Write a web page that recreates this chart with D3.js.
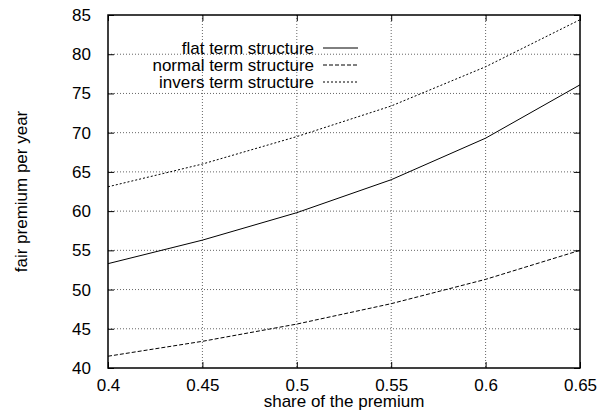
<!DOCTYPE html>
<html><head><meta charset="utf-8">
<script src="https://cdn.jsdelivr.net/npm/d3@7"></script>
<style>body{margin:0;background:#fff}svg{display:block}text{font-family:"Liberation Sans",Arial,sans-serif;}</style>
</head><body>
<svg id="c" width="599" height="412"></svg>
<script>
const xValues = [0.40, 0.45, 0.50, 0.55, 0.60, 0.65];
const flat = [53.3, 56.3, 59.8, 64.0, 69.3, 76.1];
const normal = [41.5, 43.4, 45.6, 48.2, 51.3, 55.0];
const invers = [63.1, 66.0, 69.5, 73.4, 78.4, 84.4];
const seriesNames = ["flat term structure", "normal term structure", "invers term structure"];
const xTicks = [0.4, 0.45, 0.5, 0.55, 0.6, 0.65];
const yTicks = [40, 45, 50, 55, 60, 65, 70, 75, 80, 85];

const svg = d3.select("#c");
const L = 108, R = 580, T = 15, B = 368;
const x = d3.scaleLinear().domain([0.4, 0.65]).range([L, R]);
const y = d3.scaleLinear().domain([40, 85]).range([B, T]);

// grid
const g = svg.append("g");
g.selectAll(".gx").data(xTicks.slice(1, -1)).enter().append("line")
  .attr("x1", d => x(d)).attr("x2", d => x(d)).attr("y1", T).attr("y2", B)
  .attr("stroke", "#666").attr("stroke-width", 1).attr("stroke-dasharray", "1,2");
g.selectAll(".gy").data(yTicks.slice(1, -1)).enter().append("line")
  .attr("y1", d => y(d)).attr("y2", d => y(d)).attr("x1", L).attr("x2", R)
  .attr("stroke", "#666").attr("stroke-width", 1).attr("stroke-dasharray", "1,2");

// ticks (inward, mirrored)
const tl = 6;
const fmt = d => String(+d.toFixed(2));
const axB = d3.axisBottom(x).tickValues(xTicks).tickSize(-tl).tickPadding(11).tickFormat(fmt);
const axT = d3.axisTop(x).tickValues(xTicks).tickSize(-tl).tickFormat("");
const axL = d3.axisLeft(y).tickValues(yTicks).tickSize(-tl).tickPadding(17).tickFormat(d3.format("d"));
const axR = d3.axisRight(y).tickValues(yTicks).tickSize(-tl).tickFormat("");
function style(sel) {
  sel.select(".domain").remove();
  sel.selectAll("line").attr("stroke", "#000").attr("stroke-width", 1);
  sel.selectAll("text").attr("font-size", 17).attr("fill", "#000")
    .attr("font-family", '"Liberation Sans",Arial,sans-serif');
}
svg.append("g").attr("transform", `translate(0,${B})`).call(axB).call(style);
svg.append("g").attr("transform", `translate(0,${T})`).call(axT).call(style);
svg.append("g").attr("transform", `translate(${L},0)`).call(axL).call(style);
svg.append("g").attr("transform", `translate(${R},0)`).call(axR).call(style);

// border
svg.append("rect").attr("x", L).attr("y", T).attr("width", R - L).attr("height", B - T)
  .attr("fill", "none").attr("stroke", "#000").attr("stroke-width", 1.5);

// series
const dashes = [null, "4,2", "2,2"];
const data = [flat, normal, invers];
const line = d3.line().x((d, i) => x(xValues[i])).y(d => y(d));
data.forEach((s, k) => {
  svg.append("path").datum(s).attr("d", line).attr("fill", "none")
    .attr("stroke", "#000").attr("stroke-width", 1)
    .attr("stroke-dasharray", dashes[k]);
});

// legend
const legY = [48, 65, 82];
seriesNames.forEach((n, k) => {
  svg.append("text").attr("x", 314).attr("y", legY[k] + 6).attr("text-anchor", "end")
    .attr("font-size", 17).text(n);
  svg.append("line").attr("x1", 323).attr("x2", 358).attr("y1", legY[k]).attr("y2", legY[k])
    .attr("stroke", "#000").attr("stroke-width", 1).attr("stroke-dasharray", dashes[k]);
});

// axis labels
svg.append("text").attr("x", 344).attr("y", 407).attr("text-anchor", "middle")
  .attr("font-size", 17).text("share of the premium");
svg.append("text").attr("transform", `translate(27,${(T + B) / 2}) rotate(-90)`)
  .attr("text-anchor", "middle").attr("font-size", 17).text("fair premium per year");
</script>
</body></html>
